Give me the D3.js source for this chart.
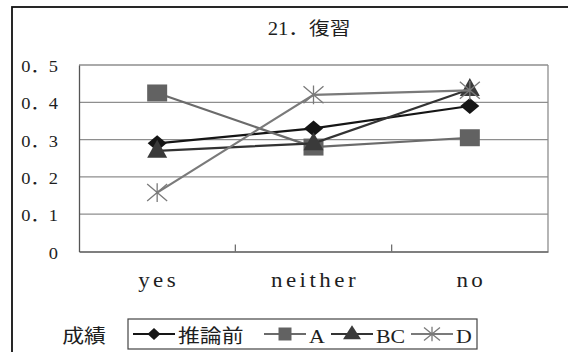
<!DOCTYPE html>
<html>
<head>
<meta charset="utf-8">
<script src="https://cdn.jsdelivr.net/npm/d3@7"></script>
<style>
  html, body { margin: 0; padding: 0; background: #fff; }
  svg { display: block; }
</style>
</head>
<body>
<svg id="chart" width="568" height="352"></svg>
<script>
// Survey item 21 (復習): share of answers per grade group
const title = "21．復習";
const categories = ["yes", "neither", "no"];
const seriesNames = ["推論前", "A", "BC", "D"];
const valuesPre = [0.29, 0.33, 0.39];
const valuesA = [0.425, 0.28, 0.305];
const valuesBC = [0.27, 0.29, 0.435];
const valuesD = [0.158, 0.42, 0.432];
const yTicks = [0, 0.1, 0.2, 0.3, 0.4, 0.5];
const yTickLabels = ["0", "0．1", "0．2", "0．3", "0．4", "0．5"];
const legendTitle = "成績";

const seriesValues = [valuesPre, valuesA, valuesBC, valuesD];
const seriesStyle = [
  { line: "#151515", fill: "#151515", marker: "diamond" },
  { line: "#6b6b6b", fill: "#626262", marker: "square" },
  { line: "#333333", fill: "#3a3a3a", marker: "triangle" },
  { line: "#7a7a7a", fill: "none", marker: "star" }
];

const FONT = '"Liberation Serif", "Noto Sans CJK JP", serif';
const svg = d3.select("#chart");
const SX = 1.15; // text is drawn slightly widened

const plot = { left: 79, right: 548, top: 65, bottom: 251.5 };

const x = d3.scaleBand().domain(categories).range([plot.left, plot.right]);
const y = d3.scaleLinear().domain([0, 0.5]).range([plot.bottom, plot.top]);
const cx = c => x(c) + x.bandwidth() / 2;

function label(g, str, px, py, size, anchor, spacing) {
  return g.append("text")
    .attr("transform", `translate(${px},${py}) scale(${SX},1)`)
    .attr("text-anchor", anchor)
    .style("font-family", FONT)
    .style("font-size", size + "px")
    .style("letter-spacing", (spacing || 0) + "px")
    .style("fill", "#1e1e1e")
    .text(str);
}

// outer chart frame (continues past the right and bottom edges)
svg.append("rect")
  .attr("x", 12).attr("y", 7)
  .attr("width", 620).attr("height", 420)
  .attr("fill", "none").attr("stroke", "#111").attr("stroke-width", 1.8);

// title
label(svg, title, 309, 35, 18, "middle");

// gridlines
svg.append("g").selectAll("line")
  .data(yTicks.filter(d => d > 0))
  .join("line")
  .attr("x1", plot.left).attr("x2", plot.right)
  .attr("y1", d => y(d)).attr("y2", d => y(d))
  .attr("stroke", "#8e8e8e").attr("stroke-width", 1.3);

// right side of the plot frame
svg.append("line")
  .attr("x1", plot.right).attr("x2", plot.right)
  .attr("y1", plot.top).attr("y2", plot.bottom)
  .attr("stroke", "#8e8e8e").attr("stroke-width", 1.3);

// y axis
const yAxis = d3.axisLeft(y).tickValues(yTicks).tickSize(0);
const yg = svg.append("g").attr("transform", `translate(${plot.left},0)`).call(yAxis);
yg.select(".domain").attr("stroke", "#555").attr("stroke-width", 1.3);
yg.selectAll(".tick text").remove();
yg.selectAll(".tick").each(function (d, i) {
  label(d3.select(this), yTickLabels[i], -21, 6.5, 16, "end");
});

// x axis with inward ticks at category boundaries
const xAxis = d3.axisBottom(x).tickSize(0);
const xg = svg.append("g").attr("transform", `translate(0,${plot.bottom})`).call(xAxis);
xg.select(".domain").attr("stroke", "#555").attr("stroke-width", 1.3);
xg.selectAll(".tick text").remove();
xg.selectAll(".tick line").remove();
xg.selectAll(".tick").each(function (d) {
  label(d3.select(this), d, 1.5, 35, 20, "middle", 3);
});
xg.selectAll("line.bound")
  .data(categories.slice(1))
  .join("line").attr("class", "bound")
  .attr("x1", d => x(d)).attr("x2", d => x(d))
  .attr("y1", 0).attr("y2", -7)
  .attr("stroke", "#666").attr("stroke-width", 1.2);

// marker shapes, slightly wider than tall
function markerPath(type, w, h) {
  const a = w / 2, b = h / 2;
  switch (type) {
    case "diamond": return `M0,${-b}L${a},0L0,${b}L${-a},0Z`;
    case "square": return `M${-a},${-b}H${a}V${b}H${-a}Z`;
    case "triangle": return `M0,${-h * 0.62}L${a},${h * 0.38}L${-a},${h * 0.38}Z`;
    case "star": return `M${-a},${-b}L${a},${b}M${-a},${b}L${a},${-b}M0,${-b * 1.1}V${b * 1.1}`;
  }
}
const markerSize = {
  diamond: [19, 16], square: [20, 17], triangle: [20, 18], star: [20, 17]
};

const line = d3.line().x((d, i) => cx(categories[i])).y(d => y(d));

seriesValues.forEach((vals, s) => {
  const st = seriesStyle[s];
  const g = svg.append("g");
  g.append("path")
    .attr("d", line(vals))
    .attr("fill", "none").attr("stroke", st.line).attr("stroke-width", 2.2);
  const [mw, mh] = markerSize[st.marker];
  g.selectAll("path.m")
    .data(vals)
    .join("path").attr("class", "m")
    .attr("transform", (d, i) => `translate(${cx(categories[i])},${y(d)})`)
    .attr("d", markerPath(st.marker, mw, mh))
    .attr("fill", st.fill)
    .attr("stroke", st.marker === "star" ? st.line : "none")
    .attr("stroke-width", 1.3);
});

// legend
label(svg, legendTitle, 84, 343, 19, "middle");
const legend = svg.append("g");
legend.append("rect")
  .attr("x", 128).attr("y", 319).attr("width", 349).attr("height", 30)
  .attr("fill", "#fff").attr("stroke", "#444").attr("stroke-width", 1.2);

const legendX = [154, 285, 352, 432];
const legendMarkerSize = {
  diamond: [13, 12], square: [13, 13], triangle: [18, 14], star: [16, 13]
};
seriesNames.forEach((name, s) => {
  const st = seriesStyle[s];
  const mx = legendX[s];
  const ly = 334;
  legend.append("line")
    .attr("x1", mx - 21).attr("x2", mx + 21)
    .attr("y1", ly).attr("y2", ly)
    .attr("stroke", st.line).attr("stroke-width", 2.2);
  const [mw, mh] = legendMarkerSize[st.marker];
  legend.append("path")
    .attr("transform", `translate(${mx},${ly})`)
    .attr("d", markerPath(st.marker, mw, mh))
    .attr("fill", st.fill)
    .attr("stroke", st.marker === "star" ? st.line : "none")
    .attr("stroke-width", 1.3);
  label(legend, name, mx + 24, 343, 19, "start");
});
</script>
</body>
</html>
